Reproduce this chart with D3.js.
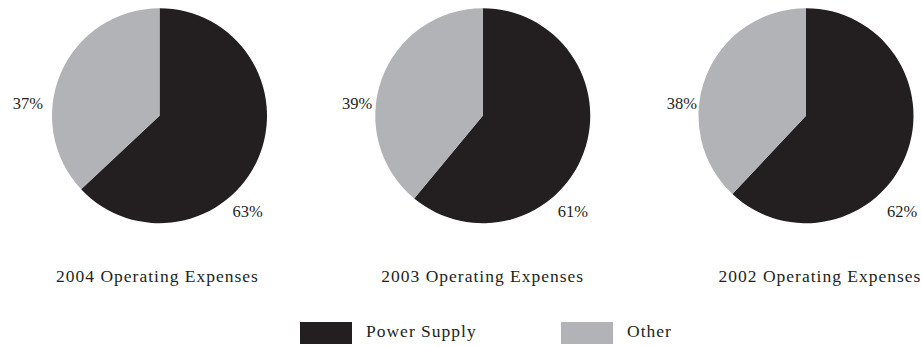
<!DOCTYPE html>
<html>
<head>
<meta charset="utf-8">
<script src="https://cdnjs.cloudflare.com/ajax/libs/d3/7.8.5/d3.min.js"></script>
<style>
  body { margin: 0; background: #fff; }
  svg text { font-family: "Liberation Serif", "DejaVu Serif", serif; fill: #231f20; }
</style>
</head>
<body>
<div id="chart"></div>
<script>
// chart data
var years = ["2004", "2003", "2002"];
var categories = ["Power Supply", "Other"];
var powerSupply = [63, 61, 62];
var other = [37, 39, 38];
var colors = ["#231f20", "#b2b3b6"];

var width = 922, height = 346;
var radius = 107.5, cy = 115.7;

// label nudges per pie (the original places them slightly differently)
var powerLabelDx = [88, 90, 96];
var otherLabelDx = [-116.5, -110.5, -109];
var titleDx = [-2, 0, 14];

var svg = d3.select("#chart").append("svg")
  .attr("width", width)
  .attr("height", height);

var x = d3.scalePoint().domain(years).range([159.5, 806]);
var color = d3.scaleOrdinal().domain(categories).range(colors);

var pie = d3.pie().sort(null).value(function(d) { return d.value; });
var arc = d3.arc().innerRadius(0).outerRadius(radius);

years.forEach(function(year, i) {
  var slices = [
    {name: categories[0], value: powerSupply[i]},
    {name: categories[1], value: other[i]}
  ];
  var g = svg.append("g").attr("transform", "translate(" + x(year) + "," + cy + ")");

  g.selectAll("path")
    .data(pie(slices))
    .enter().append("path")
    .attr("d", arc)
    .attr("fill", function(d) { return color(d.data.name); });

  // power supply label at bottom right, other label to the left
  g.append("text")
    .attr("x", powerLabelDx[i]).attr("y", 101)
    .attr("text-anchor", "middle")
    .attr("font-size", "16.5px")
    .text(powerSupply[i] + "%");

  g.append("text")
    .attr("x", otherLabelDx[i]).attr("y", -7)
    .attr("text-anchor", "end")
    .attr("font-size", "16.5px")
    .text(other[i] + "%");

  g.append("text")
    .attr("x", titleDx[i]).attr("y", 166)
    .attr("text-anchor", "middle")
    .attr("font-size", "17.5px")
    .attr("letter-spacing", "1px")
    .text(year + " Operating Expenses");
});

// legend
var legend = svg.selectAll(".legend")
  .data(categories)
  .enter().append("g")
  .attr("class", "legend")
  .attr("transform", function(d, i) { return "translate(" + (300 + i * 261) + ",322)"; });

legend.append("rect")
  .attr("width", 52).attr("height", 22)
  .attr("fill", function(d) { return color(d); });

legend.append("text")
  .attr("x", 66).attr("y", 15)
  .attr("font-size", "17.5px")
  .attr("letter-spacing", "1px")
  .text(function(d) { return d; });
</script>
</body>
</html>
